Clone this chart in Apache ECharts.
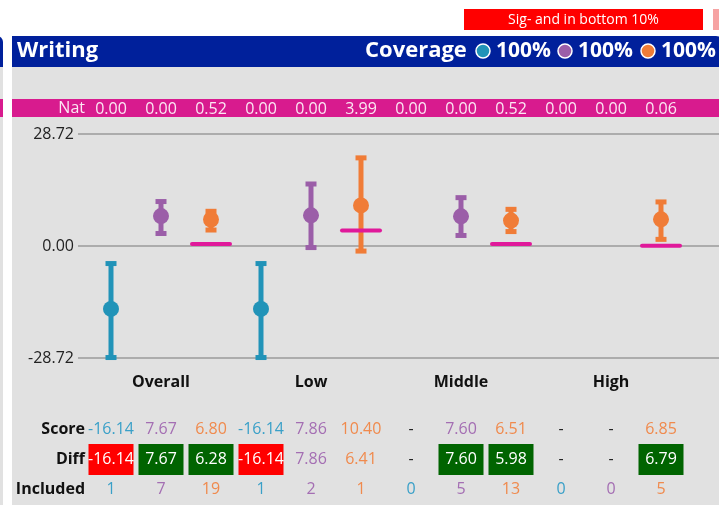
<!DOCTYPE html>
<html>
<head>
<meta charset="utf-8">
<script src="https://cdn.jsdelivr.net/npm/echarts@6/dist/echarts.min.js"></script>
<style>
html,body{margin:0;padding:0;background:#fff;}
#c{width:719px;height:505px;}
</style>
</head>
<body>
<div id="c"></div>
<script>
// ---------- data ----------
const groups = ['Overall', 'Low', 'Middle', 'High'];
const coverage = ['100%', '100%', '100%'];
// 12 slots: per group, series 0 (blue), 1 (purple), 2 (orange)
const score    = [-16.14, 7.67, 6.80, -16.14, 7.86, 10.40, null, 7.60, 6.51, null, null, 6.85];
const ciLow    = [-28.6, 3.2, 4.1, -28.6, -0.4, -1.3, null, 2.7, 3.7, null, null, 1.7];
const ciHigh   = [-4.5, 11.4, 8.9, -4.5, 15.9, 22.6, null, 12.4, 9.4, null, null, 11.3];
const diff     = [-16.14, 7.67, 6.28, -16.14, 7.86, 6.41, null, 7.60, 5.98, null, null, 6.79];
const diffSig  = ['neg', 'pos', 'pos', 'neg', '', '', '', 'pos', 'pos', '', '', 'pos'];
const included = [1, 7, 19, 1, 2, 1, 0, 5, 13, 0, 0, 5];
const nat      = [0.00, 0.00, 0.52, 0.00, 0.00, 3.99, 0.00, 0.00, 0.52, 0.00, 0.00, 0.06];
const yTicks   = [-28.72, 0.00, 28.72];
const legendText = 'Sig- and in bottom 10%';

// ---------- styles ----------
const markColors = ['#2193b8', '#9b5ea8', '#f07c37'];
const textColors = ['#3aa0c8', '#a46eb3', '#f08a4d'];
const FONT = '"Open Sans", "Noto Sans", sans-serif';
const slots = score.map((_, i) => i);
const xAx = { type: 'value', min: -0.66, max: 12.16, show: false };

const series = [];
// error bars + points
for (let s = 0; s < 3; s++) {
  const ebData = slots.filter(i => i % 3 === s && ciLow[i] != null).map(i => [i, ciLow[i], ciHigh[i]]);
  series.push({
    type: 'custom', xAxisIndex: 0, yAxisIndex: 0, z: 3,
    data: ebData,
    renderItem: (p, api) => {
      const x = api.value(0);
      const lo = api.coord([x, api.value(1)]);
      const hi = api.coord([x, api.value(2)]);
      const c = markColors[s];
      return { type: 'group', children: [
        { type: 'line', shape: { x1: hi[0], y1: hi[1], x2: lo[0], y2: lo[1] }, style: { stroke: c, lineWidth: 5 } },
        { type: 'rect', shape: { x: hi[0] - 5.5, y: hi[1] - 2.5, width: 11, height: 5 }, style: { fill: c } },
        { type: 'rect', shape: { x: lo[0] - 5.5, y: lo[1] - 2.5, width: 11, height: 5 }, style: { fill: c } }
      ]};
    }
  });
  series.push({
    type: 'scatter', xAxisIndex: 0, yAxisIndex: 0, z: 4, clip: false,
    symbolSize: 16, itemStyle: { color: markColors[s], opacity: 1 },
    emphasis: { disabled: true },
    data: slots.filter(i => i % 3 === s && score[i] != null).map(i => [i, score[i]])
  });
}
// national reference lines (drawn for the orange series)
series.push({
  type: 'custom', xAxisIndex: 0, yAxisIndex: 0, z: 5,
  data: slots.filter(i => i % 3 === 2).map(i => [i, nat[i]]),
  renderItem: (p, api) => {
    const pt = api.coord([api.value(0), api.value(1)]);
    return { type: 'line', shape: { x1: pt[0] - 19, y1: pt[1], x2: pt[0] + 19, y2: pt[1] },
      style: { stroke: '#e0199a', lineWidth: 4, lineCap: 'round' } };
  }
});
// Nat row values
series.push({
  type: 'custom', xAxisIndex: 1, yAxisIndex: 1, z: 10,
  data: slots.map(i => [i, 0]),
  renderItem: (p, api) => {
    const i = api.value(0);
    const pt = api.coord([i, 0]);
    return { type: 'text', x: pt[0], y: pt[1] + 1, style: { text: nat[i].toFixed(2), fill: '#fbe8f3',
      font: '16px ' + FONT, align: 'center', verticalAlign: 'middle' } };
  }
});
// group labels
series.push({
  type: 'custom', xAxisIndex: 2, yAxisIndex: 2, z: 10,
  data: groups.map((g, gi) => [gi * 3 + 1, 0, gi]),
  renderItem: (p, api) => {
    const pt = api.coord([api.value(0), 0]);
    return { type: 'text', x: pt[0], y: pt[1], style: { text: groups[api.value(2)], fill: '#111',
      font: 'bold 16px ' + FONT, align: 'center', verticalAlign: 'middle' } };
  }
});
// table rows
series.push({
  type: 'custom', xAxisIndex: 3, yAxisIndex: 3, z: 10,
  data: slots.map(i => [i, 0]),
  renderItem: (p, api) => {
    const i = api.value(0);
    const s = i % 3;
    const pS = api.coord([i, 0]);
    const pD = api.coord([i, 1]);
    const pI = api.coord([i, 2]);
    const ch = [];
    const txt = (pt, t, c) => ({ type: 'text', x: pt[0], y: pt[1], z2: 5,
      style: { text: t, fill: c, font: '16px ' + FONT, align: 'center', verticalAlign: 'middle' } });
    ch.push(score[i] == null ? txt(pS, '-', '#222') : txt(pS, score[i].toFixed(2), textColors[s]));
    if (diff[i] == null) {
      ch.push(txt(pD, '-', '#222'));
    } else if (diffSig[i]) {
      ch.push({ type: 'rect', shape: { x: pD[0] - 22.5, y: pD[1] - 15, width: 45, height: 31 },
        style: { fill: diffSig[i] === 'neg' ? '#ff0000' : '#006400' } });
      ch.push(txt(pD, diff[i].toFixed(2), '#ffffff'));
    } else {
      ch.push(txt(pD, diff[i].toFixed(2), textColors[s]));
    }
    ch.push(txt(pI, String(included[i]), textColors[s]));
    return { type: 'group', children: ch };
  }
});

const catY = (name, lblColor) => ({
  type: 'category', data: name, inverse: true,
  axisLine: { show: false }, axisTick: { show: false }, splitLine: { show: false },
  axisLabel: { show: !!lblColor, color: lblColor, fontFamily: FONT, margin: -7, fontSize: 16 }
});

const option = {
  animation: false,
  grid: [
    { left: 78, right: 0, top: 134, height: 224 },
    { left: 78, right: 0, top: 99, height: 18 },
    { left: 78, right: 0, top: 372, height: 20 },
    { left: 78, right: 0, top: 414, height: 90 }
  ],
  xAxis: [0, 1, 2, 3].map(g => Object.assign({ gridIndex: g }, xAx)),
  yAxis: [
    { type: 'value', gridIndex: 0, min: yTicks[0], max: yTicks[2], interval: yTicks[2],
      axisLine: { show: false }, axisTick: { show: false },
      axisLabel: { color: '#222', fontSize: 16, fontFamily: FONT, margin: 4, formatter: v => v.toFixed(2) },
      splitLine: { show: true, lineStyle: { color: '#9a9a9a', width: 1.5 } } },
    Object.assign(catY(['Nat'], '#fbe8f3'), { gridIndex: 1 }),
    Object.assign(catY(['g'], null), { gridIndex: 2 }),
    Object.assign(catY(['Score', 'Diff', 'Included'], '#111'), { gridIndex: 3,
      axisLabel: { show: true, color: '#111', fontFamily: FONT, fontWeight: 'bold', fontSize: 16, margin: -7 } })
  ],
  graphic: [
    // backgrounds
    { type: 'rect', z: -10, shape: { x: 12, y: 66, width: 707, height: 439 }, style: { fill: '#e1e1e1' } },
    { type: 'rect', z: -10, shape: { x: 0, y: 66, width: 3, height: 439 }, style: { fill: '#e1e1e1' } },
    { type: 'rect', z: -9, shape: { x: -10, y: 36, width: 13, height: 31, r: [0, 6, 0, 0] }, style: { fill: '#00209b' } },
    { type: 'rect', z: -9, shape: { x: 0, y: 99, width: 3, height: 18 }, style: { fill: '#d81b8e' } },
    { type: 'rect', z: -9, shape: { x: 12, y: 99, width: 707, height: 18 }, style: { fill: '#d81b8e' } },
    // header
    { type: 'rect', z: -9, shape: { x: 12, y: 36, width: 712, height: 31, r: [0, 8, 0, 0] }, style: { fill: '#00209b' } },
    { type: 'text', z: 20, x: 17, y: 51, style: { text: 'Writing', fill: '#fff', font: 'bold 22px ' + FONT, verticalAlign: 'middle' } },
    { type: 'text', z: 20, x: 365, y: 51, style: { text: 'Coverage', fill: '#fff', font: 'bold 22px ' + FONT, verticalAlign: 'middle' } },
    ...coverage.flatMap((c, k) => {
      const cx = [483, 565, 648][k];
      return [
        { type: 'circle', z: 20, shape: { cx: cx, cy: 51, r: 7 }, style: { fill: markColors[k], stroke: '#fff', lineWidth: 1.5 } },
        { type: 'text', z: 20, x: cx + 13, y: 51, style: { text: c, fill: '#fff', font: 'bold 21px ' + FONT, verticalAlign: 'middle' } }
      ];
    }),
    // legend box
    { type: 'rect', z: 20, shape: { x: 464, y: 9, width: 239, height: 21 }, style: { fill: '#ff0000' } },
    { type: 'text', z: 21, x: 583.5, y: 20, style: { text: legendText, fill: '#fff', font: '14px ' + FONT, align: 'center', verticalAlign: 'middle' } },
    { type: 'rect', z: 20, shape: { x: 713, y: 9, width: 10, height: 21 }, style: { fill: '#f6a3a3' } }
  ],
  series: series
};

const chart = echarts.init(document.getElementById('c'), null, { renderer: 'canvas' });
chart.setOption(option);
</script>
</body>
</html>
